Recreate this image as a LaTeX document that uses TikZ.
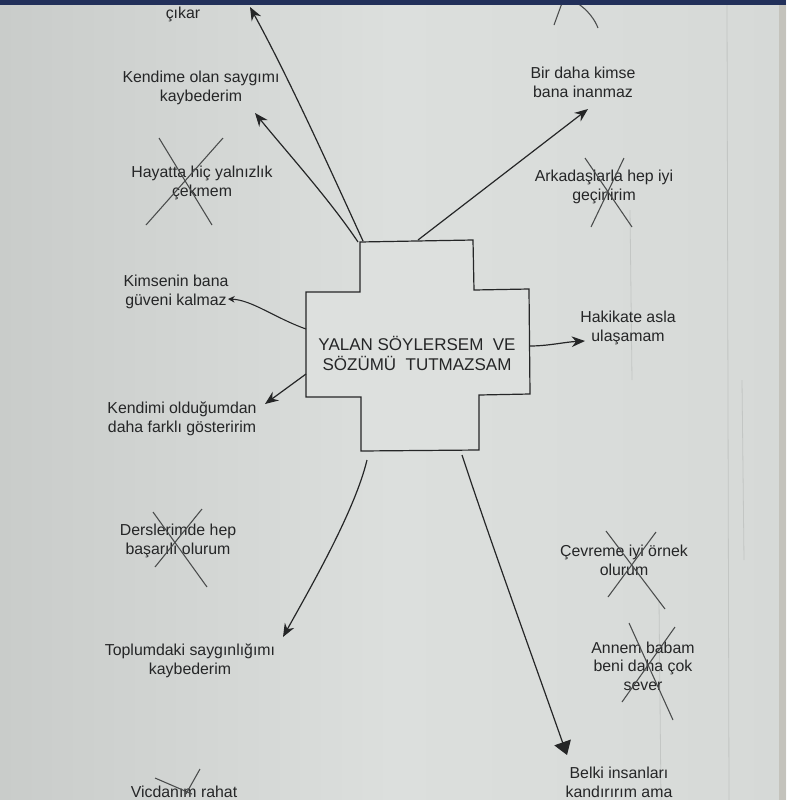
\documentclass[tikz,border=0pt]{standalone}
\usepackage{fontspec}
\setmainfont{Liberation Sans}
\usetikzlibrary{arrows.meta}
\definecolor{paperL}{HTML}{C9CCCA}
\definecolor{paperM}{HTML}{DCDFDD}
\definecolor{paperR}{HTML}{D6D9D7}
\definecolor{ink}{HTML}{252627}
\definecolor{navy}{HTML}{22305A}
\definecolor{crossfill}{HTML}{DDE0DE}
\definecolor{strike}{HTML}{4A4C4C}
\definecolor{fold}{HTML}{C3C6C4}
\definecolor{edge}{HTML}{C4C3BC}
\begin{document}
\begin{tikzpicture}[x=0.75pt,y=-0.75pt,
  lbl/.style={align=center, text=ink, font=\fontsize{11.9}{14}\selectfont, inner sep=0pt},
  title/.style={align=center, text=ink, font=\fontsize{12.75}{15}\selectfont, inner sep=0pt},
  conn/.style={draw=ink, line width=0.9pt, -{Stealth[length=10pt,width=8pt]}},
  smallconn/.style={draw=ink, line width=0.8pt, -{Stealth[length=5pt,width=5pt]}},
  bigconn/.style={draw=ink, line width=0.9pt, -{Triangle[length=10pt,width=13pt]}},
  strikeout/.style={draw=strike, line width=0.8pt},
  crossbox/.style={draw=ink, line width=0.9pt, fill=crossfill},
  foldline/.style={draw=fold, line width=0.6pt}]
\useasboundingbox (0,0) rectangle (786,800);
\shade[left color=paperL, right color=paperR, middle color=paperM] (0,0) rectangle (786,800);
\fill[fill=edge] (779,5) rectangle (786,800);
% faint paper lines
\draw[foldline] (727,5) -- (729,800);
\draw[foldline] (630,210) -- (632,380);
\draw[foldline] (659,600) -- (661,800);
\draw[foldline] (742,380) -- (744,560);

% central cross
\draw[crossbox] (360,242) -- (473,240) -- (474,290) -- (529,289) -- (530,394) -- (479,395)
  -- (479,450) -- (361,451) -- (361,397) -- (306,397) -- (306,292) -- (360,292) -- cycle;
\node[title] (center) at (417,353) {YALAN SÖYLERSEM\ \ VE\\SÖZÜMÜ\ \ TUTMAZSAM};

% labels
\node[lbl] (cikar) at (183,14) {çıkar};
\node[lbl] (kendime) at (201,88) {Kendime olan saygımı\\kaybederim};
\node[lbl] (hayatta) at (202,183) {Hayatta hiç yalnızlık\\çekmem};
\node[lbl] (kimsenin) at (176,292) {Kimsenin bana\\güveni kalmaz};
\node[lbl] (kendimi) at (182,419) {Kendimi olduğumdan\\daha farklı gösteririm};
\node[lbl] (dersler) at (178,541) {Derslerimde hep\\başarılı olurum};
\node[lbl] (toplum) at (190,661) {Toplumdaki saygınlığımı\\kaybederim};
\node[lbl, anchor=south] (vicdan) at (184,798) {Vicdanım rahat};
\node[lbl] (birdaha) at (583,82) {Bir daha kimse\\bana inanmaz};
\node[lbl] (arkadas) at (604,187) {Arkadaşlarla hep iyi\\geçinirim};
\node[lbl] (hakikat) at (628,328) {Hakikate asla\\ulaşamam};
\node[lbl] (cevre) at (624,560) {Çevreme iyi örnek\\olurum};
\node[lbl] (annem) at (643,666) {Annem babam\\beni daha çok\\sever};
\node[lbl, anchor=north] (belki) at (619,767) {Belki insanları\\kandırırım ama};

% attachment coordinates
\coordinate (tl1) at (363,241);
\coordinate (tl2) at (358,242);
\coordinate (tr) at (418,240);
\coordinate (lt) at (306,329);
\coordinate (lb) at (306,374);
\coordinate (rr) at (530,346);
\coordinate (bl) at (367,460);
\coordinate (br) at (462,455);
\coordinate (cikarT) at (250,7);
\coordinate (kendimeT) at (255,113);
\coordinate (kimseninT) at (228,299);
\coordinate (kendimiT) at (265,404);
\coordinate (toplumT) at (283,637);
\coordinate (birdahaT) at (588,109);
\coordinate (hakikatT) at (585,341);
\coordinate (belkiT) at (567,755);

% connectors
\draw[conn] (tl1) .. controls (335,180) and (290,80) .. (cikarT);
\draw[conn] (tl2) .. controls (330,200) and (285,150) .. (kendimeT);
\draw[smallconn] (lt) .. controls (275,318) and (252,300) .. (kimseninT);
\draw[conn] (lb) -- (kendimiT);
\draw[conn] (bl) .. controls (355,510) and (312,585) .. (toplumT);
\draw[bigconn] (br) .. controls (490,540) and (530,650) .. (belkiT);
\draw[conn] (tr) -- (birdahaT);
\draw[conn] (rr) .. controls (548,346) and (565,342) .. (hakikatT);

% strike-outs
\draw[strikeout] (159,138) -- (212,225);
\draw[strikeout] (223,138) -- (146,225);
\draw[strikeout] (585,158) -- (632,227);
\draw[strikeout] (624,158) -- (591,227);
\draw[strikeout] (153,512) -- (207,587);
\draw[strikeout] (202,509) -- (155,567);
\draw[strikeout] (606,531) -- (665,609);
\draw[strikeout] (656,532) -- (608,597);
\draw[strikeout] (629,623) -- (673,720);
\draw[strikeout] (675,627) -- (622,702);
\draw[strikeout] (155,778) -- (192,794);
\draw[strikeout] (200,769) -- (186,794);
\draw[strikeout] (562,3) -- (554,25);
\draw[strikeout] (577,3) .. controls (588,10) and (595,20) .. (598,28);

% top band
\fill[navy] (0,0) rectangle (786,5);
\end{tikzpicture}
\end{document}
